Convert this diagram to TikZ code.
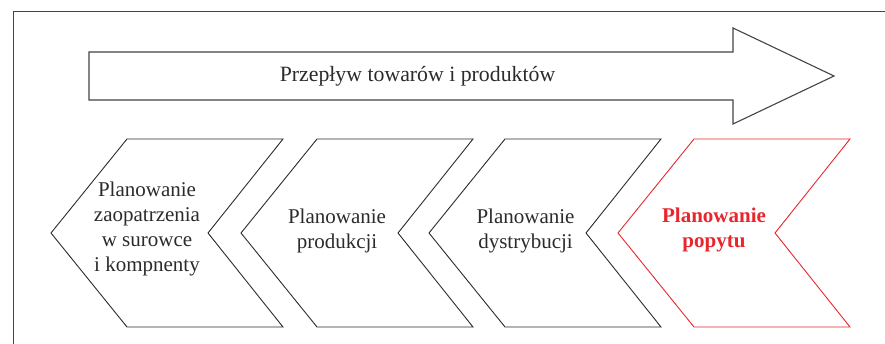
\documentclass[tikz,border=0pt]{standalone}
\usepackage{fontspec}
\setmainfont{Liberation Serif}
\definecolor{ink}{HTML}{2B2B2B}
\definecolor{framegray}{HTML}{444444}
\definecolor{accent}{HTML}{E8262B}
\begin{document}
\begin{tikzpicture}[x=1pt,y=-1pt,
  framestyle/.style={draw=framegray,line width=1pt},
  flowarrow/.style={draw=framegray,line width=1.1pt,line join=miter},
  chev/.style={draw=ink,line width=0.9pt,line join=miter},
  chevred/.style={draw=accent,line width=0.9pt,line join=miter},
  lbl/.style={text=ink,font=\fontsize{21}{25}\selectfont,align=center,inner sep=0pt},
  lblred/.style={text=accent,font=\bfseries\fontsize{21}{25}\selectfont,align=center,inner sep=0pt}]
\useasboundingbox (0,0) rectangle (885,344);
% frame (top and left edges)
\draw[framestyle] (885,12) -- (13,12) -- (13,344);
% big flow arrow
\draw[flowarrow] (89,52) -- (733,52) -- (733,28) -- (834,76) -- (733,124) -- (733,100) -- (89,100) -- cycle;
\node[lbl,font=\fontsize{21.8}{25}\selectfont,anchor=base] (flow) at (417.5,82) {Przepływ towarów i produktów};
% chevrons
\foreach \L/\s in {51/chev,241/chev,429/chev,618/chevred}{
  \draw[\s] (\L+76,139) -- (\L+232,139) -- (\L+157,233) -- (\L+232,327) -- (\L+76,327) -- (\L,233) -- cycle;
}
\node[lbl] (supply) at (147,228.5) {Planowanie\\zaopatrzenia\\w surowce\\i kompnenty};
\node[lbl] (prod) at (337,230.5) {Planowanie\\produkcji};
\node[lbl] (dist) at (525.5,230.5) {Planowanie\\dystrybucji};
\node[lblred] (demand) at (714,229.5) {Planowanie\\popytu};
\end{tikzpicture}
\end{document}
